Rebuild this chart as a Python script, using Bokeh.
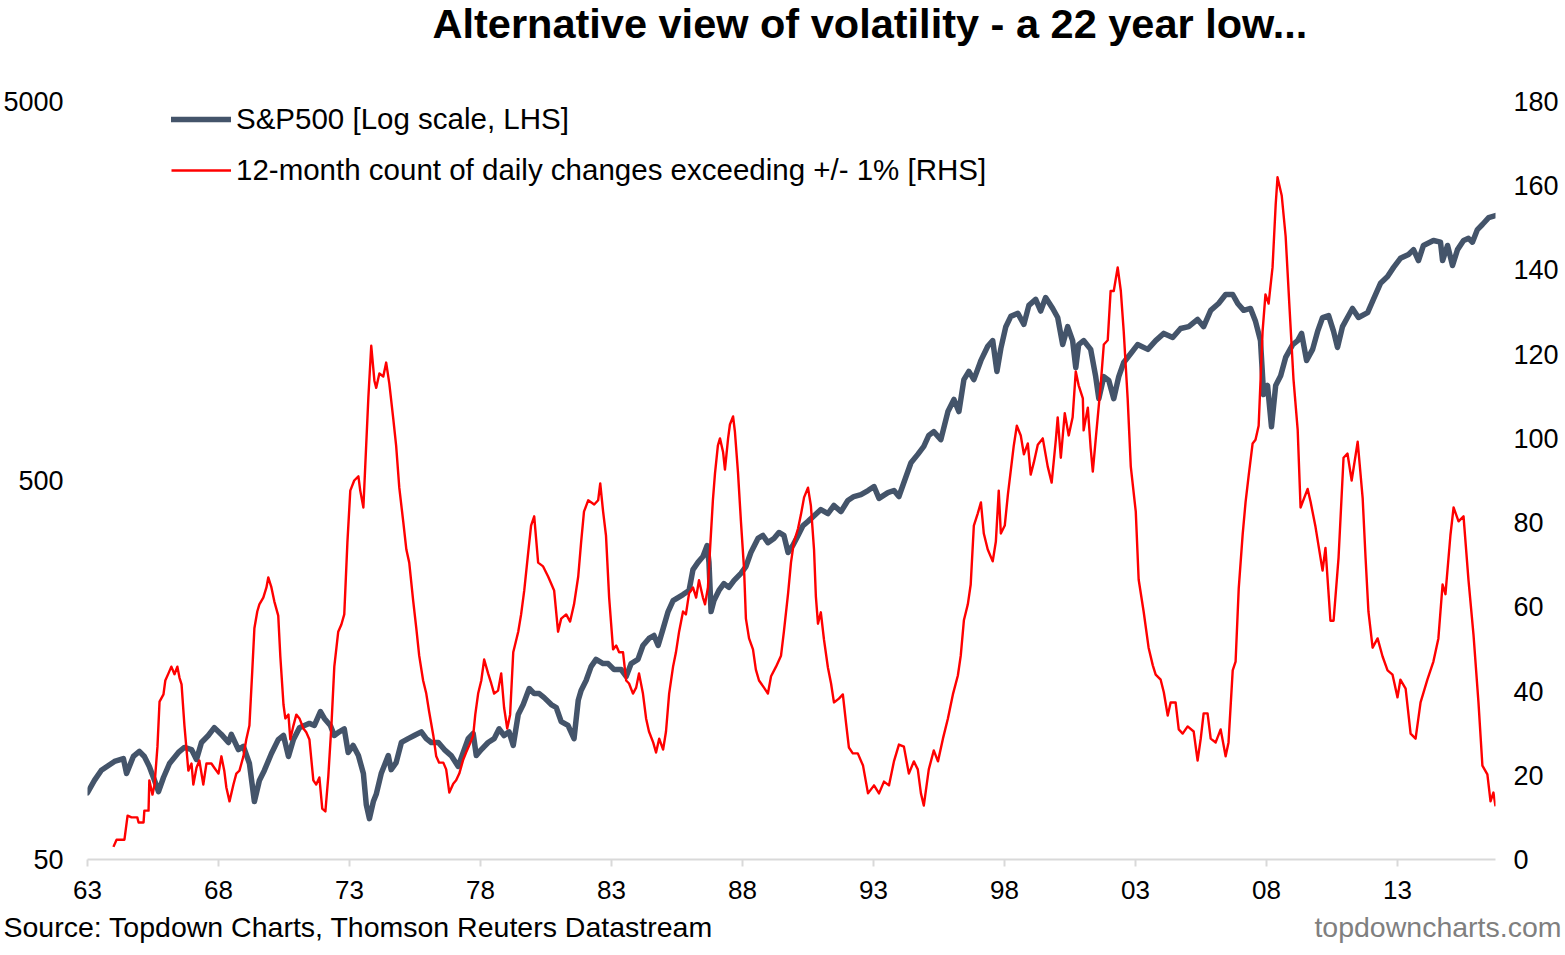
from bokeh.plotting import figure
from bokeh.models import (Range1d, LinearAxis, LinearScale, FixedTicker, BasicTickFormatter,
                          Title, Legend, LegendItem, ColumnDataSource)
from bokeh.embed import file_html
from bokeh.resources import INLINE

# ---------------- data ----------------
sp_years = [1963.00, 1963.27, 1963.53, 1963.80, 1964.03, 1964.37, 1964.49, 1964.75, 1964.98, 1965.17,
            1965.36, 1965.56, 1965.71, 1965.90, 1966.13, 1966.47, 1966.70, 1966.97, 1967.16, 1967.35,
            1967.61, 1967.84, 1968.11, 1968.38, 1968.49, 1968.76, 1968.95, 1969.18, 1969.37, 1969.56,
            1969.75, 1970.02, 1970.28, 1970.48, 1970.67, 1970.86, 1971.09, 1971.28, 1971.47, 1971.66,
            1971.89, 1972.04, 1972.27, 1972.42, 1972.61, 1972.80, 1972.95, 1973.14, 1973.34, 1973.53,
            1973.64, 1973.76, 1973.91, 1974.02, 1974.21, 1974.48, 1974.59, 1974.78, 1974.98, 1975.24,
            1975.47, 1975.74, 1975.93, 1976.12, 1976.39, 1976.62, 1976.88, 1977.15, 1977.34, 1977.53,
            1977.72, 1977.84, 1978.03, 1978.29, 1978.52, 1978.71, 1978.90, 1979.09, 1979.25, 1979.44,
            1979.63, 1979.86, 1980.05, 1980.24, 1980.43, 1980.70, 1980.89, 1981.08, 1981.34, 1981.57,
            1981.73, 1981.84, 1982.03, 1982.22, 1982.41, 1982.68, 1982.87, 1983.10, 1983.37, 1983.56,
            1983.75, 1984.01, 1984.20, 1984.43, 1984.62, 1984.78, 1984.97, 1985.16, 1985.35, 1985.54,
            1985.73, 1985.96, 1986.11, 1986.30, 1986.49, 1986.65, 1986.72, 1986.80, 1986.91, 1987.10,
            1987.29, 1987.48, 1987.68, 1987.94, 1988.13, 1988.32, 1988.59, 1988.78, 1988.97, 1989.20,
            1989.39, 1989.58, 1989.74, 1989.93, 1990.12, 1990.31, 1990.50, 1990.99, 1991.26, 1991.49,
            1991.76, 1992.02, 1992.25, 1992.52, 1992.79, 1993.02, 1993.21, 1993.55, 1993.78, 1993.97,
            1994.16, 1994.43, 1994.69, 1994.92, 1995.11, 1995.30, 1995.57, 1995.84, 1996.07, 1996.26,
            1996.45, 1996.64, 1996.83, 1997.10, 1997.36, 1997.55, 1997.71, 1997.86, 1998.05, 1998.24,
            1998.51, 1998.74, 1998.93, 1999.19, 1999.38, 1999.57, 1999.84, 2000.03, 2000.22, 2000.41,
            2000.60, 2000.72, 2000.83, 2001.02, 2001.29, 2001.48, 2001.60, 2001.79, 2001.98, 2002.17,
            2002.36, 2002.55, 2002.82, 2003.08, 2003.47, 2003.77, 2004.08, 2004.42, 2004.72, 2005.03,
            2005.37, 2005.60, 2005.87, 2006.17, 2006.44, 2006.71, 2006.90, 2007.13, 2007.39, 2007.58,
            2007.77, 2007.89, 2008.04, 2008.19, 2008.35, 2008.54, 2008.73, 2009.00, 2009.19, 2009.34,
            2009.53, 2009.76, 2009.95, 2010.14, 2010.37, 2010.56, 2010.71, 2010.90, 2011.09, 2011.28,
            2011.51, 2011.86, 2012.08, 2012.35, 2012.62, 2012.85, 2013.11, 2013.42, 2013.61, 2013.80,
            2013.99, 2014.37, 2014.64, 2014.72, 2014.91, 2015.10, 2015.29, 2015.52, 2015.71, 2015.86,
            2016.05, 2016.24, 2016.48, 2016.74]
sp_values = [75, 81, 86, 88.5, 90.7, 92.3, 84.3, 93.5, 96.4, 93.5,
             88, 80.8, 75.5, 82.3, 89.6, 95.8, 98.8, 97.5, 91.8, 101.8,
             106.2, 111.4, 106.9, 101.8, 106.9, 97.5, 99.4, 89.6, 71.1, 80.8,
             85.9, 95.2, 103.6, 106.2, 93.5, 103.6, 111.4, 112.9, 114.3, 112.9,
             122.8, 117.8, 112.9, 106.2, 108.6, 110.6, 95.8, 100, 94, 84.3,
             69.8, 64.1, 71.1, 74.3, 84.3, 94, 86.3, 90.1, 101.8, 104.2,
             106.2, 108.6, 104.2, 101.8, 101.8, 97.5, 94, 88, 95.8, 104.2,
             107.5, 94, 97.5, 101.8, 104.2, 110.6, 106.2, 108.6, 100, 120.7,
             128.2, 141.3, 137, 137, 133.7, 128.2, 125.9, 115.6, 112.9, 104.2,
             131.5, 139.6, 148.3, 161.4, 168.6, 164.4, 164.4, 158.5, 158.5, 152,
             164.4, 168.6, 183.5, 191.5, 195, 183.5, 203.3, 225.5, 241, 245.5,
             250, 256.4, 291, 304, 315, 336.7, 304, 225.5, 241, 256.4,
             267.3, 261.2, 272.5, 284.4, 296.5, 322.8, 351.6, 358.1, 342.8, 351.6,
             364.6, 358.1, 322.8, 338, 358, 380.3, 390, 419, 409, 429.5,
             414, 442.7, 453.6, 459, 470.5, 482, 448.6, 464.6, 470.5, 453.6,
             494, 557, 586, 615, 657.5, 673, 641, 760, 818, 760,
             923, 970, 923, 1037, 1130, 1170, 970, 1115, 1273, 1355,
             1380, 1291, 1449, 1503, 1400, 1520, 1422, 1346, 1142, 1273,
             1170, 993, 1142, 1170, 1109, 940, 822, 940, 918, 822,
             940, 1024, 1082, 1142, 1109, 1170, 1222, 1192, 1259, 1273,
             1330, 1273, 1406, 1466, 1548, 1548, 1466, 1406, 1422, 1315,
             1170, 843, 891, 693, 891, 945, 1056, 1142, 1170, 1222,
             1037, 1109, 1237, 1346, 1362, 1237, 1122, 1273, 1346, 1422,
             1346, 1387, 1503, 1657, 1727, 1825, 1928, 1974, 2033, 1902,
             2085, 2149, 2127, 1902, 2085, 1846, 2033, 2149, 2177, 2127,
             2296, 2368, 2470, 2500]

count_years = [1963.99, 1964.11, 1964.41, 1964.53, 1964.68, 1964.90, 1964.95, 1965.14, 1965.17, 1965.33,
               1965.36, 1965.48, 1965.56, 1965.67, 1965.75, 1965.90, 1965.97, 1966.09, 1966.20, 1966.32,
               1966.43, 1966.51, 1966.59, 1966.70, 1966.85, 1966.97, 1967.04, 1967.16, 1967.27, 1967.42,
               1967.54, 1967.73, 1967.84, 1968.00, 1968.11, 1968.22, 1968.30, 1968.42, 1968.57, 1968.68,
               1968.80, 1968.95, 1969.06, 1969.18, 1969.29, 1969.37, 1969.48, 1969.56, 1969.71, 1969.83,
               1969.90, 1970.02, 1970.13, 1970.28, 1970.36, 1970.48, 1970.55, 1970.67, 1970.74, 1970.86,
               1970.97, 1971.09, 1971.24, 1971.35, 1971.47, 1971.62, 1971.73, 1971.85, 1971.96, 1972.08,
               1972.19, 1972.31, 1972.42, 1972.57, 1972.69, 1972.80, 1972.92, 1973.03, 1973.18, 1973.34,
               1973.41, 1973.53, 1973.60, 1973.72, 1973.83, 1973.95, 1974.02, 1974.14, 1974.29, 1974.40,
               1974.52, 1974.67, 1974.78, 1974.90, 1975.05, 1975.17, 1975.28, 1975.43, 1975.55, 1975.66,
               1975.81, 1975.93, 1976.04, 1976.20, 1976.31, 1976.42, 1976.58, 1976.69, 1976.81, 1976.96,
               1977.07, 1977.19, 1977.34, 1977.45, 1977.57, 1977.72, 1977.80, 1977.91, 1978.03, 1978.14,
               1978.29, 1978.41, 1978.52, 1978.67, 1978.79, 1978.90, 1979.02, 1979.13, 1979.25, 1979.44,
               1979.55, 1979.67, 1979.82, 1979.93, 1980.05, 1980.20, 1980.39, 1980.58, 1980.70, 1980.81,
               1980.96, 1981.08, 1981.27, 1981.42, 1981.57, 1981.73, 1981.84, 1981.95, 1982.11, 1982.34,
               1982.49, 1982.57, 1982.68, 1982.79, 1982.91, 1983.06, 1983.18, 1983.29, 1983.44, 1983.56,
               1983.67, 1983.82, 1983.94, 1984.05, 1984.20, 1984.32, 1984.43, 1984.59, 1984.70, 1984.82,
               1984.97, 1985.08, 1985.20, 1985.35, 1985.46, 1985.58, 1985.73, 1985.84, 1985.96, 1986.11,
               1986.23, 1986.34, 1986.49, 1986.57, 1986.68, 1986.76, 1986.87, 1986.95, 1987.06, 1987.14,
               1987.26, 1987.33, 1987.45, 1987.52, 1987.64, 1987.71, 1987.83, 1987.94, 1988.06, 1988.13,
               1988.25, 1988.40, 1988.51, 1988.63, 1988.82, 1988.97, 1989.09, 1989.28, 1989.47, 1989.58,
               1989.74, 1989.85, 1989.96, 1990.12, 1990.23, 1990.35, 1990.50, 1990.61, 1990.73, 1990.80,
               1990.88, 1990.99, 1991.11, 1991.26, 1991.38, 1991.49, 1991.68, 1991.83, 1991.95, 1992.06,
               1992.21, 1992.40, 1992.60, 1992.79, 1993.02, 1993.21, 1993.40, 1993.59, 1993.78, 1993.97,
               1994.16, 1994.35, 1994.54, 1994.69, 1994.81, 1994.92, 1995.11, 1995.30, 1995.46, 1995.65,
               1995.84, 1996.03, 1996.22, 1996.33, 1996.45, 1996.60, 1996.71, 1996.83, 1996.98, 1997.10,
               1997.21, 1997.36, 1997.55, 1997.67, 1997.78, 1997.86, 1998.01, 1998.13, 1998.24, 1998.35,
               1998.47, 1998.62, 1998.74, 1998.89, 1999.00, 1999.12, 1999.27, 1999.46, 1999.65, 1999.80,
               1999.96, 2000.03, 2000.15, 2000.30, 2000.45, 2000.60, 2000.72, 2000.83, 2000.99, 2001.02,
               2001.18, 2001.29, 2001.37, 2001.48, 2001.67, 2001.79, 2001.94, 2002.05, 2002.17, 2002.32,
               2002.44, 2002.55, 2002.70, 2002.82, 2003.01, 2003.12, 2003.31, 2003.50, 2003.66, 2003.77,
               2003.96, 2004.08, 2004.23, 2004.34, 2004.53, 2004.65, 2004.80, 2004.99, 2005.22, 2005.37,
               2005.49, 2005.60, 2005.75, 2005.87, 2006.06, 2006.25, 2006.44, 2006.55, 2006.71, 2006.82,
               2006.94, 2007.09, 2007.20, 2007.32, 2007.47, 2007.58, 2007.70, 2007.85, 2007.96, 2008.08,
               2008.23, 2008.35, 2008.42, 2008.58, 2008.73, 2008.88, 2009.03, 2009.19, 2009.30, 2009.57,
               2009.68, 2009.87, 2010.14, 2010.25, 2010.44, 2010.56, 2010.75, 2010.94, 2011.09, 2011.25,
               2011.48, 2011.67, 2011.78, 2011.89, 2012.05, 2012.24, 2012.43, 2012.62, 2012.81, 2013.00,
               2013.11, 2013.31, 2013.50, 2013.69, 2013.88, 2014.14, 2014.37, 2014.56, 2014.72, 2014.83,
               2015.02, 2015.14, 2015.33, 2015.52, 2015.71, 2015.90, 2016.09, 2016.24, 2016.43, 2016.55,
               2016.66, 2016.74]
count_values = [3, 4.7, 4.7, 10.4, 10, 10, 8.8, 8.8, 11.6, 11.6,
                18.8, 15.4, 17.8, 26.8, 37.5, 39.2, 42.5, 44.2, 45.8, 44,
                45.8, 43.2, 41.6, 31.8, 21.1, 22.8, 17.8, 21.8, 23.5, 17.8,
                22.8, 22.8, 21.8, 20.4, 24.5, 21.1, 17.1, 13.8, 17.8, 20.4,
                21.1, 24.5, 28.5, 31.8, 44.9, 54.9, 58.9, 60.6, 62.2, 64.6,
                67, 64.6, 61.3, 57.9, 48.2, 36.8, 33.5, 34.4, 28.5, 31.8,
                34.4, 33.5, 31.1, 30.2, 28.5, 18.8, 17.8, 19.5, 12.1, 11.4,
                19.7, 31.8, 45.8, 54.1, 55.8, 58.2, 75.3, 87.6, 90, 91,
                87.6, 83.6, 93.3, 109.7, 122, 113.7, 112, 115.4, 114.7, 118,
                113, 104.7, 98.3, 88.3, 80.3, 73.6, 70.5, 61.5, 54.9, 48.4,
                42.5, 39.4, 35.1, 29.4, 24.5, 23, 23, 21.4, 15.9, 18,
                18.8, 20.4, 23.7, 25.4, 27.1, 29.4, 34.4, 39.4, 42.5, 47.5,
                44.2, 41.8, 39.4, 40.1, 44.2, 36.1, 31.1, 34.4, 49.2, 54.1,
                58.2, 63.9, 72.9, 79.3, 81.5, 70.5, 69.6, 67.2, 65.5, 63.9,
                54.1, 57.2, 58.2, 56.5, 60.6, 67.2, 75.3, 82.6, 85.3, 84.3,
                85.3, 89.3, 82.6, 76.9, 62.2, 49.9, 50.8, 49.2, 49.2, 42.5,
                41.8, 39.4, 40.8, 44.2, 39.4, 33.5, 30.4, 27.8, 25.4, 28.7,
                26.1, 30.4, 39.4, 45.8, 49.2, 54.1, 58.9, 58.2, 63.2, 64.6,
                62.2, 66.3, 62.2, 60.6, 64.6, 73.6, 85.3, 91.7, 98.3, 100,
                96.7, 92.6, 100, 103.3, 105.2, 101.6, 91.7, 80.3, 68.9, 57.2,
                52.5, 49.9, 45.1, 42.5, 40.8, 39.4, 43.5, 45.8, 48.4, 54.1,
                63.2, 70.5, 75.3, 78.6, 81.9, 86, 88.3, 84, 73.6, 62.5,
                56, 58.7, 52.2, 45.6, 41.8, 37.3, 38.2, 39.2, 32.5, 26.6,
                25.2, 25.2, 22.3, 15.7, 17.6, 15.7, 18.5, 17.6, 23.3, 27.3,
                26.8, 20.4, 23.3, 21.4, 15.7, 12.8, 21.4, 25.9, 23.3, 28.7,
                33.5, 39.2, 43.7, 48.4, 56.8, 60.6, 65.3, 79.3, 82.2, 84.8,
                77.4, 73.6, 70.8, 75.5, 87.6, 77.4, 79.3, 86.7, 92.4, 98.1,
                103, 100.7, 96.2, 98.8, 91.4, 94.3, 98.5, 100, 93.3, 89.5,
                99.7, 105, 95.4, 106, 100.7, 105, 115.9, 112.6, 109.5, 101.9,
                107.3, 97.6, 92.1, 99.7, 112.6, 122.3, 123.3, 135, 135, 140.6,
                135, 125.4, 109.5, 93.3, 82.6, 66.5, 58.9, 50.3, 46.1, 43.9,
                42.7, 39.7, 34.2, 37.3, 37.3, 30.9, 29.9, 31.6, 30.4, 23.5,
                28.7, 34.7, 34.7, 28.7, 27.8, 30.9, 24.5, 27.8, 44.9, 47,
                64.4, 77.2, 84.8, 91.2, 98.8, 99.7, 103, 125.4, 134.2, 132,
                140.6, 155.5, 162, 157.7, 148, 130.8, 114, 102, 83.6, 88,
                85, 79, 68.6, 74, 56.7, 56.7, 71.7, 95.4, 96.4, 90,
                99.2, 85.8, 71.7, 58.9, 50.3, 52.5, 48.2, 44.9, 43.9, 38.5,
                42.7, 40.6, 29.9, 28.7, 37.3, 42.7, 47, 52.5, 65.3, 63,
                77, 83.6, 80.3, 81.5, 66.3, 53.4, 37.3, 22.3, 20.2, 13.8,
                15.9, 12.6]

x_tick_years = [1963, 1968, 1973, 1978, 1983, 1988, 1993, 1998, 2003, 2008, 2013]
x_tick_labels = ["63", "68", "73", "78", "83", "88", "93", "98", "03", "08", "13"]
lhs_ticks = [50, 500, 5000]
rhs_ticks = [0, 20, 40, 60, 80, 100, 120, 140, 160, 180]

title_text = "Alternative view of volatility - a 22 year low..."
sp_label = "S&P500 [Log scale, LHS]"
count_label = "12-month count of daily changes exceeding +/- 1% [RHS]"
source_text = "Source: Topdown Charts, Thomson Reuters Datastream"
brand_text = "topdowncharts.com"

# ---------------- main figure ----------------
FONT = "Liberation Sans"
SP_COLOR = "#44546A"
RED = "#FF0000"
W = 1562

p = figure(width=W, height=953,
           x_range=Range1d(1963, 2016.74), y_range=Range1d(50, 5000),
           y_axis_type="log", output_backend="svg", toolbar_location=None,
           min_border_left=86, min_border_right=W - 1495, min_border_top=101, min_border_bottom=94)
p.extra_y_ranges = {"rhs": Range1d(0, 180)}
p.extra_y_scales = {"rhs": LinearScale()}

p.xgrid.visible = False
p.ygrid.visible = False
p.outline_line_color = None
p.background_fill_color = "white"
p.border_fill_color = "white"
p.title.text = ""

# title: an empty spacer next to the frame, then the title text above it
spacer_top = Title(text=" ", align="left", standoff=9,
                   text_font=FONT, text_font_style="bold", text_font_size="41.5px")
main_title = Title(text=title_text, align="left", offset=345, standoff=-6,
                   text_font=FONT, text_font_style="bold", text_font_size="41.5px",
                   text_color="#000000")
p.add_layout(spacer_top, "above")
p.add_layout(main_title, "above")

# x axis
xa = p.xaxis[0]
xa.ticker = FixedTicker(ticks=x_tick_years)
xa.major_label_overrides = dict(zip(x_tick_years, x_tick_labels))
xa.axis_line_color = "#D9D9D9"
xa.axis_line_width = 2
xa.major_tick_line_color = "#D9D9D9"
xa.major_tick_line_width = 2
xa.major_tick_out = 7
xa.major_tick_in = 0
xa.minor_tick_line_color = None
xa.major_label_text_font = FONT
xa.major_label_text_font_size = "26px"
xa.major_label_text_color = "#000000"
xa.major_label_standoff = 14

# left (log) axis
ya = p.yaxis[0]
ya.ticker = FixedTicker(ticks=lhs_ticks)
ya.formatter = BasicTickFormatter(use_scientific=False)
ya.axis_line_color = None
ya.major_tick_line_color = None
ya.minor_tick_line_color = None
ya.major_label_text_font = FONT
ya.major_label_text_font_size = "27px"
ya.major_label_text_color = "#000000"
ya.major_label_standoff = 18

# right axis
ra = LinearAxis(y_range_name="rhs", ticker=FixedTicker(ticks=rhs_ticks))
ra.axis_line_color = None
ra.major_tick_line_color = None
ra.minor_tick_line_color = None
ra.major_label_text_font = FONT
ra.major_label_text_font_size = "27px"
ra.major_label_text_color = "#000000"
ra.major_label_standoff = 12
p.add_layout(ra, "right")

# series
sp_src = ColumnDataSource(data=dict(x=sp_years, y=sp_values))
ct_src = ColumnDataSource(data=dict(x=count_years, y=count_values))
r_sp = p.line("x", "y", source=sp_src, line_color=SP_COLOR, line_width=5.5,
              line_join="round", line_cap="round")
r_ct = p.line("x", "y", source=ct_src, y_range_name="rhs", line_color=RED, line_width=2.4,
              line_join="round")

legend = Legend(items=[LegendItem(label=sp_label, renderers=[r_sp]),
                       LegendItem(label=count_label, renderers=[r_ct])],
                location=(84, 672), orientation="vertical",
                glyph_width=60, glyph_height=34, label_height=34, label_standoff=5,
                spacing=17, padding=0, margin=0,
                border_line_color=None, background_fill_alpha=0,
                label_text_font=FONT, label_text_font_size="29.5px", label_text_color="#000000")
p.add_layout(legend)

# source (left) and brand (right) under the x axis, on one line:
# a spacer below the axis, then two zero-height title panels centred on the same line
spacer_bottom = Title(text=" ", align="left", standoff=-10,
                      text_font=FONT, text_font_size="28.5px")
src_title = Title(text=source_text, align="left", offset=-84, standoff=-35,
                  text_font=FONT, text_font_size="28.5px", text_font_style="normal",
                  text_color="#000000")
brand_title = Title(text=brand_text, align="right", offset=-66, standoff=-35,
                    text_font=FONT, text_font_size="28.5px", text_font_style="normal",
                    text_color="#7F7F7F")
p.add_layout(spacer_bottom, "below")
p.add_layout(src_title, "below")
p.add_layout(brand_title, "below")

open("out.html", "w").write(file_html(p, INLINE))
